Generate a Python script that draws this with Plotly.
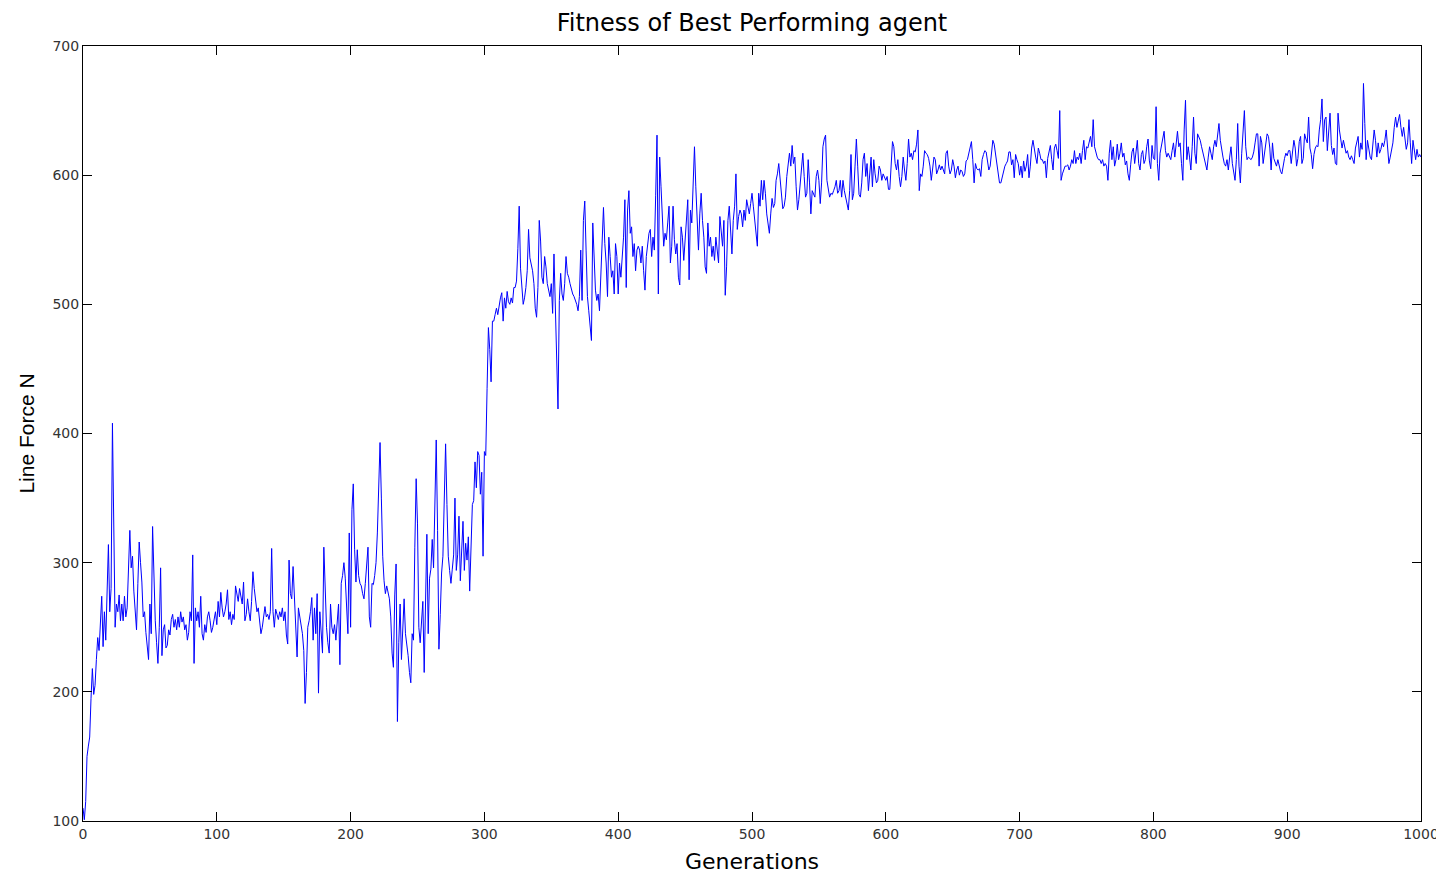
import plotly.graph_objects as go

# Best-agent line force per generation
force_000_099 = [
    110, 101, 115, 150, 158, 165, 195, 218, 198, 205,
    225, 242, 232, 252, 274, 235, 262, 240, 270, 314,
    262, 280, 408, 326, 250, 268, 262, 275, 255, 268,
    255, 274, 258, 265, 290, 325, 296, 305, 278, 262,
    248, 284, 316, 300, 285, 258, 262, 246, 236, 225,
    268, 245, 328, 290, 255, 238, 222, 250, 296, 228,
    248, 252, 234, 236, 248, 244, 256, 260, 250, 256,
    248, 258, 250, 262, 254, 258, 248, 252, 240, 246,
    262, 255, 306, 222, 265, 255, 262, 250, 274, 245,
    240, 252, 246, 258, 262, 255, 246, 250, 258, 262,
]
force_100_199 = [
    252, 270, 258, 277, 265, 258, 262, 268, 279, 256,
    262, 252, 260, 256, 282, 275, 270, 280, 272, 268,
    285, 255, 260, 272, 262, 255, 270, 293, 280, 268,
    262, 265, 255, 245, 250, 260, 266, 258, 260, 256,
    262, 311, 262, 250, 264, 260, 256, 262, 258, 265,
    255, 262, 244, 237, 302, 276, 272, 297, 270, 258,
    227, 265, 258, 252, 245, 232, 191, 215, 250, 255,
    262, 273, 240, 265, 245, 276, 199, 262, 248, 230,
    312, 282, 250, 238, 230, 268, 250, 245, 252, 240,
    258, 268, 221, 284, 290, 300, 288, 262, 245, 323,
]
force_200_299 = [
    250, 341, 361, 310, 285, 310, 290, 284, 282, 276,
    272, 284, 295, 312, 258, 250, 284, 283, 290, 300,
    323, 358, 393, 350, 305, 286, 276, 282, 278, 272,
    258, 230, 219, 275, 299, 177, 238, 268, 225, 250,
    272, 245, 238, 228, 215, 207, 245, 240, 312, 365,
    330, 250, 238, 258, 270, 215, 275, 322, 245, 288,
    295, 318, 296, 340, 395, 325, 233, 260, 292, 305,
    350, 392, 345, 305, 294, 284, 295, 306, 350, 294,
    306, 336, 286, 312, 332, 294, 315, 302, 320, 278,
    315, 345, 348, 378, 358, 386, 383, 353, 370, 305,
]
force_300_399 = [
    386, 383, 435, 482, 465, 440, 487, 487, 492, 497,
    492, 500, 505, 509, 487, 505, 497, 510, 502, 500,
    505, 501, 513, 513, 518, 543, 576, 528, 513, 500,
    505, 513, 526, 558, 536, 532, 526, 516, 497, 490,
    513, 565, 549, 521, 516, 537, 529, 516, 511, 506,
    516, 493, 539, 500, 465, 419, 503, 524, 508, 503,
    516, 537, 524, 521, 516, 511, 508, 506, 503, 500,
    495, 506, 542, 503, 565, 580, 542, 506, 495, 486,
    472, 563, 537, 511, 503, 508, 495, 519, 550, 575,
    547, 532, 506, 552, 537, 521, 526, 508, 547, 537,
]
force_400_499 = [
    508, 532, 521, 537, 552, 581, 513, 573, 588, 555,
    560, 537, 547, 526, 542, 545, 542, 532, 545, 526,
    511, 537, 545, 555, 558, 537, 552, 542, 584, 631,
    508, 614, 591, 563, 545, 555, 550, 563, 576, 532,
    545, 576, 550, 539, 547, 521, 515, 560, 552, 534,
    552, 568, 581, 519, 573, 563, 601, 622, 591, 563,
    542, 570, 586, 565, 552, 529, 524, 563, 545, 552,
    537, 545, 534, 552, 542, 532, 568, 552, 545, 565,
    507, 529, 565, 576, 555, 539, 565, 576, 601, 558,
    568, 573, 570, 560, 573, 565, 581, 576, 570, 578,
]
force_500_599 = [
    586, 576, 565, 558, 545, 586, 576, 596, 581, 596,
    586, 570, 560, 555, 570, 582, 575, 578, 596, 601,
    609, 596, 583, 574, 576, 583, 599, 609, 617, 607,
    623, 609, 614, 591, 573, 581, 594, 609, 617, 599,
    583, 586, 612, 594, 570, 588, 586, 583, 599, 604,
    596, 578, 594, 622, 628, 631, 596, 588, 583, 586,
    585, 588, 591, 596, 586, 588, 596, 583, 596, 588,
    583, 576, 573, 588, 616, 581, 586, 607, 628, 607,
    585, 583, 594, 612, 617, 599, 609, 588, 604, 614,
    591, 612, 601, 594, 596, 607, 604, 596, 601, 599,
]
force_600_699 = [
    596, 599, 589, 589, 612, 626, 622, 609, 604, 612,
    599, 591, 599, 614, 604, 596, 609, 628, 614, 617,
    612, 619, 618, 624, 635, 588, 601, 599, 607, 619,
    617, 616, 613, 607, 596, 604, 614, 612, 601, 604,
    608, 604, 607, 604, 601, 617, 619, 607, 601, 604,
    612, 607, 598, 604, 607, 600, 604, 603, 599, 601,
    611, 612, 617, 623, 626, 612, 594, 609, 605, 604,
    605, 599, 612, 616, 619, 618, 611, 604, 607, 619,
    627, 624, 617, 608, 600, 594, 594, 599, 604, 607,
    609, 611, 618, 618, 608, 612, 598, 616, 612, 609,
]
force_700_799 = [
    600, 607, 598, 611, 603, 607, 616, 598, 607, 621,
    627, 619, 614, 609, 621, 617, 612, 612, 609, 611,
    598, 613, 619, 623, 612, 604, 621, 624, 619, 613,
    650, 596, 601, 604, 607, 607, 608, 604, 607, 612,
    609, 619, 609, 614, 612, 617, 609, 619, 627, 612,
    622, 621, 626, 630, 622, 643, 622, 617, 614, 612,
    612, 609, 612, 607, 609, 607, 596, 617, 627, 612,
    622, 607, 612, 624, 612, 617, 625, 614, 617, 608,
    611, 601, 596, 608, 618, 621, 609, 618, 627, 609,
    604, 616, 619, 609, 612, 622, 628, 611, 605, 623,
]
force_800_899 = [
    613, 612, 653, 609, 596, 617, 622, 627, 634, 619,
    614, 617, 614, 612, 619, 625, 614, 627, 634, 622,
    625, 609, 596, 635, 658, 612, 622, 614, 604, 622,
    645, 617, 609, 632, 630, 627, 622, 617, 614, 607,
    604, 614, 622, 617, 612, 622, 627, 622, 632, 640,
    627, 619, 614, 609, 607, 612, 604, 614, 622, 609,
    601, 596, 612, 640, 607, 594, 617, 632, 650, 622,
    612, 614, 613, 612, 614, 618, 625, 632, 632, 607,
    630, 625, 609, 618, 622, 632, 630, 621, 604, 625,
    613, 609, 607, 612, 606, 603, 601, 609, 613, 617,
]
force_900_1000 = [
    615, 619, 619, 609, 618, 627, 621, 607, 613, 626,
    630, 609, 613, 632, 628, 625, 645, 621, 616, 605,
    616, 621, 623, 622, 635, 643, 659, 626, 643, 645,
    619, 637, 648, 623, 616, 621, 609, 608, 648, 635,
    626, 621, 627, 623, 617, 619, 614, 612, 615, 612,
    609, 621, 627, 630, 614, 625, 620, 671, 640, 612,
    627, 620, 614, 612, 625, 635, 627, 614, 625, 617,
    620, 625, 622, 627, 635, 617, 609, 614, 620, 625,
    637, 645, 637, 643, 647, 637, 630, 637, 627, 620,
    625, 643, 625, 609, 627, 617, 612, 620, 614, 616,
    614,
]

force = (force_000_099 + force_100_199 + force_200_299 + force_300_399
         + force_400_499 + force_500_599 + force_600_699 + force_700_799
         + force_800_899 + force_900_1000)
generations = list(range(len(force)))

x_ticks = list(range(0, 1001, 100))
y_ticks = list(range(100, 701, 100))

title_text = "Fitness of Best Performing agent"
x_title = "Generations"
y_title = "Line Force N"

WIDE = "DejaVu Sans, Verdana, sans-serif"
NARROW = "Liberation Sans, Arial, Helvetica, sans-serif"

# The page body has an 8px default margin, so the figure is drawn 8px in.
W, H = 1436, 868

fig = go.Figure()
fig.add_trace(go.Scatter(
    x=generations, y=force, mode="lines",
    line=dict(color="#0000ff", width=1),
    showlegend=False, hoverinfo="x+y",
))

axis_common = dict(
    showline=True, linecolor="black", linewidth=1, mirror="ticks",
    ticks="inside", ticklen=9, tickwidth=1, tickcolor="black",
    showgrid=False, zeroline=False,
    tickfont=dict(family=WIDE, size=14, color="#333333"),
)

fig.update_layout(
    width=W, height=H, autosize=False,
    paper_bgcolor="white", plot_bgcolor="white",
    margin=dict(l=75, r=23, t=38, b=55, autoexpand=False),
    title=dict(text=title_text, x=(752 - 8) / W, xanchor="center",
               y=1 - 15 / H, yanchor="middle", yref="container",
               font=dict(family=WIDE, size=24, color="black")),
    xaxis=dict(range=[0, 1000], tickvals=x_ticks, ticktext=[str(v) for v in x_ticks],
               title=dict(text=x_title, standoff=12,
                          font=dict(family=WIDE, size=22, color="black")),
               **axis_common),
    yaxis=dict(range=[100, 700], tickvals=y_ticks, ticktext=[str(v) for v in y_ticks],
               title=dict(text=y_title, standoff=12,
                          font=dict(family=NARROW, size=21, color="black")),
               **axis_common),
)

fig.write_html("out.html")
